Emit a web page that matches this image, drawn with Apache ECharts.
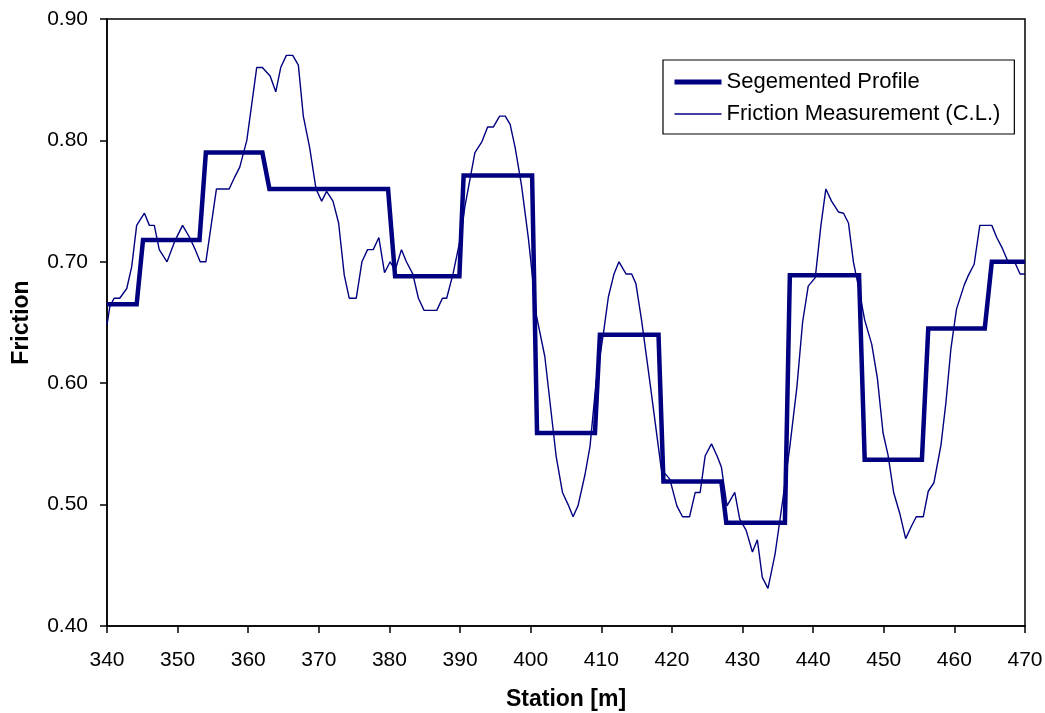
<!DOCTYPE html>
<html>
<head>
<meta charset="utf-8">
<script src="https://cdn.jsdelivr.net/npm/echarts@6/dist/echarts.min.js"></script>
<style>
html,body{margin:0;padding:0;background:#fff;}
#chart{width:1045px;height:713px;}
</style>
</head>
<body>
<div id="chart"></div>
<script>
// ---- data ----
const seriesNames = ['Segemented Profile', 'Friction Measurement (C.L.)'];
const xTitle = 'Station [m]';
const yTitle = 'Friction';

const profileX = [340, 344.2, 345.1, 353.1, 354.0, 362.0, 363.0, 379.8, 380.8, 389.9, 390.5, 400.2, 400.9, 409.1, 409.8, 418.1, 418.8, 427.0, 427.7, 436.0, 436.7, 446.5, 447.3, 455.4, 456.3, 464.3, 465.3, 470];
const profileY = [0.665, 0.665, 0.718, 0.718, 0.790, 0.790, 0.760, 0.760, 0.688, 0.688, 0.771, 0.771, 0.559, 0.559, 0.640, 0.640, 0.519, 0.519, 0.485, 0.485, 0.689, 0.689, 0.537, 0.537, 0.645, 0.645, 0.700, 0.700];

const measX = [340.0, 340.4, 341.0, 341.8, 342.8, 343.5, 344.2, 345.3, 346.0, 346.7, 347.4, 348.5, 349.6, 350.7, 351.7, 352.5, 353.2, 354.0, 355.5, 357.3,
  358.1, 358.8, 359.8, 361.2, 362.0, 363.1, 363.9, 364.6, 365.4, 366.3, 367.1, 367.8, 368.7, 369.6, 370.4, 371.1, 372.0, 372.8, 373.6, 374.3,
  375.3, 376.1, 376.9, 377.7, 378.5, 379.3, 380.1, 380.8, 381.7, 382.4, 383.3, 384.1, 384.9, 386.7, 387.5, 388.1, 389.0, 390.0, 390.7, 392.1,
  393.1, 393.9, 394.7, 395.6, 396.4, 397.1, 397.8, 398.7, 399.7, 400.1, 400.8, 402.0, 403.6, 404.5, 405.3, 406.0, 406.7, 407.7, 408.4, 409.3,
  410.3, 411.0, 411.8, 412.5, 413.5, 414.3, 414.9, 415.7, 416.9, 418.5, 419.7, 420.7, 421.5, 422.5, 423.3, 424.0, 424.7, 425.6, 426.4, 427.0,
  427.8, 428.9, 429.6, 430.5, 431.4, 432.1, 432.8, 433.6, 434.6, 435.7, 436.7, 437.7, 438.5, 439.3, 440.3, 441.1, 441.8, 442.6, 443.6, 444.3,
  445.0, 445.7, 446.5, 447.3, 448.3, 449.1, 449.9, 450.6, 451.4, 452.3, 453.1, 453.9, 454.6, 455.6, 456.3, 457.1, 458.1, 458.8, 459.5, 460.3,
  461.4, 462.0, 462.8, 463.6, 465.3, 466.0, 466.8, 467.6, 468.6, 469.3, 470.0];
const measY = [0.648, 0.663, 0.670, 0.670, 0.678, 0.696, 0.730, 0.740, 0.730, 0.730, 0.710, 0.700, 0.717, 0.730, 0.720, 0.710, 0.700, 0.700, 0.760, 0.760,
  0.770, 0.778, 0.800, 0.860, 0.860, 0.853, 0.840, 0.860, 0.870, 0.870, 0.862, 0.820, 0.794, 0.760, 0.750, 0.758, 0.750, 0.732, 0.689, 0.670,
  0.670, 0.700, 0.710, 0.710, 0.720, 0.691, 0.700, 0.693, 0.710, 0.700, 0.690, 0.670, 0.660, 0.660, 0.670, 0.670, 0.690, 0.718, 0.746, 0.790,
  0.799, 0.811, 0.811, 0.820, 0.820, 0.813, 0.794, 0.763, 0.718, 0.696, 0.656, 0.622, 0.540, 0.510, 0.500, 0.490, 0.499, 0.525, 0.548, 0.603,
  0.641, 0.671, 0.690, 0.700, 0.690, 0.690, 0.682, 0.652, 0.600, 0.529, 0.521, 0.499, 0.490, 0.490, 0.510, 0.510, 0.540, 0.550, 0.540, 0.531,
  0.499, 0.510, 0.488, 0.479, 0.461, 0.471, 0.440, 0.431, 0.459, 0.504, 0.548, 0.597, 0.650, 0.680, 0.687, 0.730, 0.760, 0.750, 0.741, 0.740,
  0.732, 0.700, 0.677, 0.652, 0.632, 0.604, 0.559, 0.541, 0.510, 0.492, 0.472, 0.482, 0.490, 0.490, 0.511, 0.518, 0.549, 0.584, 0.628, 0.661,
  0.681, 0.689, 0.698, 0.730, 0.730, 0.720, 0.711, 0.700, 0.699, 0.690, 0.690];

// ---- chart ----
const FONT = '"Liberation Sans", Arial, sans-serif';
const NAVY = '#000080';
const chart = echarts.init(document.getElementById('chart'), null, {renderer: 'canvas'});
chart.setOption({
  animation: false,
  backgroundColor: '#fff',
  textStyle: {fontFamily: FONT, color: '#000'},
  grid: {left: 107, right: 20, top: 19, bottom: 87, show: true, borderColor: '#000', borderWidth: 1.5,
         containLabel: false, outerBoundsMode: 'none'},
  legend: {
    orient: 'vertical', left: 663, top: 60,
    padding: [11, 14, 9, 9], itemGap: 10, itemWidth: 47, itemHeight: 22,
    backgroundColor: '#fff', borderColor: '#000', borderWidth: 1.2, borderRadius: 0,
    itemStyle: {color: 'rgba(0,0,0,0)', borderColor: 'rgba(0,0,0,0)', borderWidth: 0},
    textStyle: {fontSize: 22, color: '#000', fontFamily: FONT},
    data: [
      {name: seriesNames[0], lineStyle: {color: NAVY, width: 5}},
      {name: seriesNames[1], lineStyle: {color: NAVY, width: 1.5}}
    ]
  },
  xAxis: {
    type: 'value', min: 340, max: 470, interval: 10,
    name: xTitle, nameLocation: 'middle', nameGap: 62,
    nameTextStyle: {fontSize: 23, fontWeight: 'bold', color: '#000', fontFamily: FONT},
    axisLine: {show: true, lineStyle: {color: '#000', width: 1.5}},
    axisTick: {show: true, inside: false, length: 7, lineStyle: {color: '#000', width: 1.5}},
    axisLabel: {fontSize: 21, color: '#000', margin: 24, fontFamily: FONT},
    splitLine: {show: false}
  },
  yAxis: {
    type: 'value', min: 0.4, max: 0.9, interval: 0.1,
    name: yTitle, nameLocation: 'middle', nameGap: 74, nameRotate: 90,
    nameTextStyle: {fontSize: 23, fontWeight: 'bold', color: '#000', fontFamily: FONT},
    axisLine: {show: true, lineStyle: {color: '#000', width: 1.5}},
    axisTick: {show: true, inside: false, length: 7, lineStyle: {color: '#000', width: 1.5}},
    axisLabel: {fontSize: 21, color: '#000', margin: 19, fontFamily: FONT, formatter: v => v.toFixed(2)},
    splitLine: {show: false}
  },
  series: [
    {
      name: seriesNames[0], type: 'line', symbol: 'none', showSymbol: false,
      data: profileX.map((x, i) => [x, profileY[i]]),
      lineStyle: {color: NAVY, width: 4.5, join: 'miter'},
      itemStyle: {color: NAVY}, z: 2
    },
    {
      name: seriesNames[1], type: 'line', symbol: 'none', showSymbol: false,
      data: measX.map((x, i) => [x, measY[i]]),
      lineStyle: {color: NAVY, width: 1.4},
      itemStyle: {color: NAVY}, z: 3
    }
  ]
});
</script>
</body>
</html>
